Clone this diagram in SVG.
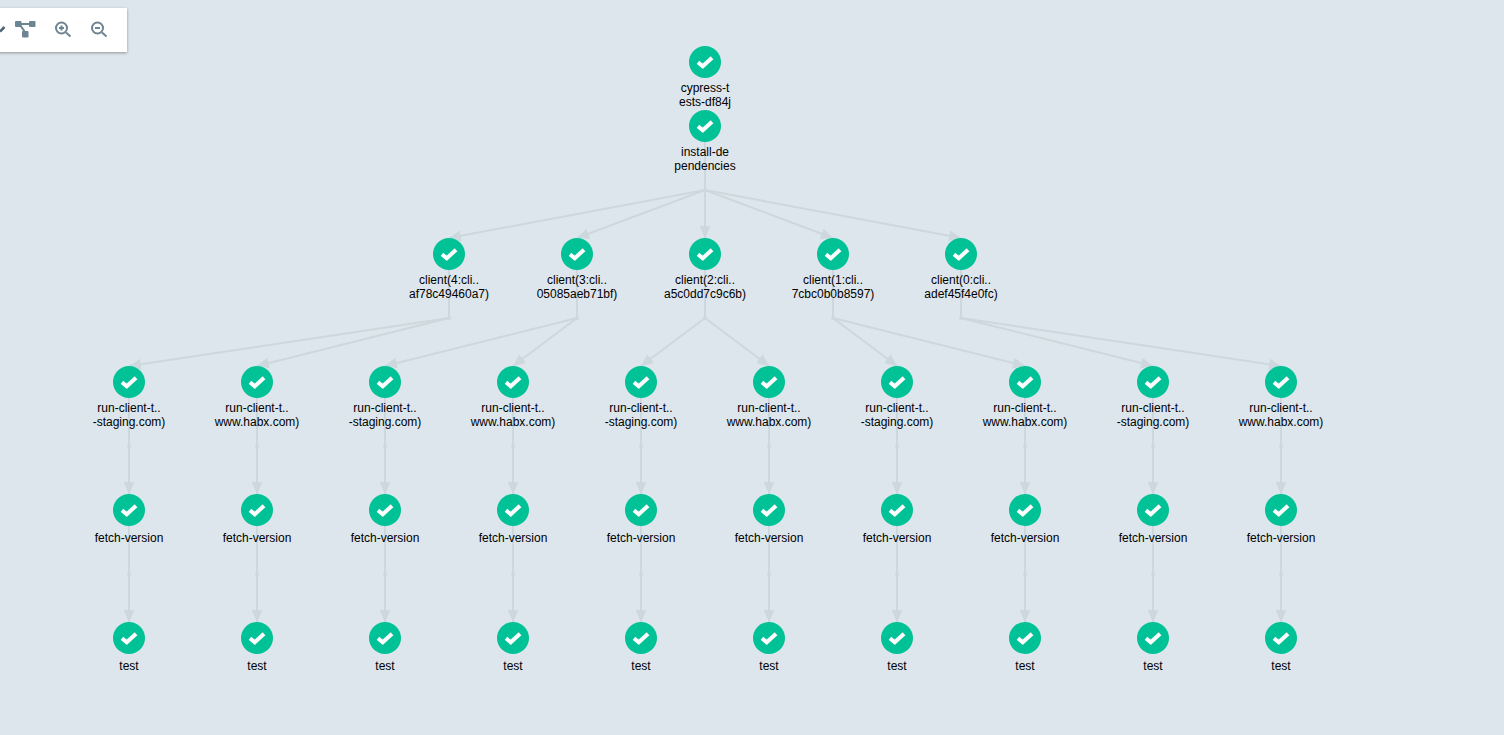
<svg xmlns="http://www.w3.org/2000/svg" width="1504" height="735" viewBox="0 0 1504 735">
<style>
.bg{fill:#dde6ec}
.edge{fill:none;stroke:#ccd8dd;stroke-width:2;marker-end:url(#arrow)}
.plain{marker-end:none}
.dot{fill:#ccd8dd}
text{font-family:"Liberation Sans",Arial,sans-serif;font-size:12px;fill:#000;text-anchor:middle}
.ic{fill:none;stroke:#6d8592;stroke-width:2}
.icf{fill:#6d8592}
</style>
<defs>
<marker id="arrow" markerUnits="userSpaceOnUse" markerWidth="13" markerHeight="13" viewBox="0 0 13 13" refX="12" refY="6.500" orient="auto">
<path d="M0 1 L12 6.500 L0 12 Z" fill="#ccd8dd"/>
</marker>
<g id="ok">
<circle r="16" fill="#00c296"/>
<path d="M-7 0.300 L-2.300 4.300 L7 -4.300" fill="none" stroke="#fff" stroke-width="4"/>
</g>
<filter id="sh" x="-10%" y="-20%" width="120%" height="150%"><feDropShadow dx="0" dy="1" stdDeviation="1.5" flood-color="#000" flood-opacity="0.35"/></filter>
</defs>
<rect class="bg" width="1504" height="735"/>
<g id="connectors">
<path class="edge plain" d="M705 126V190"/>
<path class="edge" d="M705 190L449 238"/><path class="edge" d="M705 190L577 238"/><path class="edge" d="M705 190V238"/><path class="edge" d="M705 190L833 238"/><path class="edge" d="M705 190L961 238"/>
<path class="edge plain" d="M449 254V318M577 254V318M705 254V318M833 254V318M961 254V318"/>
<path class="edge" d="M449 318L129 366"/><path class="edge" d="M449 318L257 366"/>
<path class="edge" d="M577 318L385 366"/><path class="edge" d="M577 318L513 366"/>
<path class="edge" d="M705 318L641 366"/><path class="edge" d="M705 318L769 366"/>
<path class="edge" d="M833 318L897 366"/><path class="edge" d="M833 318L1025 366"/>
<path class="edge" d="M961 318L1153 366"/><path class="edge" d="M961 318L1281 366"/>
<path class="edge" d="M129 382V494"/><path class="edge" d="M257 382V494"/><path class="edge" d="M385 382V494"/><path class="edge" d="M513 382V494"/><path class="edge" d="M641 382V494"/><path class="edge" d="M769 382V494"/><path class="edge" d="M897 382V494"/><path class="edge" d="M1025 382V494"/><path class="edge" d="M1153 382V494"/><path class="edge" d="M1281 382V494"/>
<path class="edge" d="M129 510V622"/><path class="edge" d="M257 510V622"/><path class="edge" d="M385 510V622"/><path class="edge" d="M513 510V622"/><path class="edge" d="M641 510V622"/><path class="edge" d="M769 510V622"/><path class="edge" d="M897 510V622"/><path class="edge" d="M1025 510V622"/><path class="edge" d="M1153 510V622"/><path class="edge" d="M1281 510V622"/>
<g class="dot">
<circle cx="705" cy="190" r="2"/><circle cx="449" cy="318" r="2"/><circle cx="577" cy="318" r="2"/><circle cx="705" cy="318" r="2"/><circle cx="833" cy="318" r="2"/><circle cx="961" cy="318" r="2"/>
<circle cx="129" cy="446" r="2"/><circle cx="257" cy="446" r="2"/><circle cx="385" cy="446" r="2"/><circle cx="513" cy="446" r="2"/><circle cx="641" cy="446" r="2"/><circle cx="769" cy="446" r="2"/><circle cx="897" cy="446" r="2"/><circle cx="1025" cy="446" r="2"/><circle cx="1153" cy="446" r="2"/><circle cx="1281" cy="446" r="2"/>
<circle cx="129" cy="574" r="2"/><circle cx="257" cy="574" r="2"/><circle cx="385" cy="574" r="2"/><circle cx="513" cy="574" r="2"/><circle cx="641" cy="574" r="2"/><circle cx="769" cy="574" r="2"/><circle cx="897" cy="574" r="2"/><circle cx="1025" cy="574" r="2"/><circle cx="1153" cy="574" r="2"/><circle cx="1281" cy="574" r="2"/>
</g>
</g>
<g id="root"><use href="#ok" x="705" y="62"/><text x="705" y="92">cypress-t</text><text x="705" y="106">ests-df84j</text></g>
<g id="install"><use href="#ok" x="705" y="126"/><text x="705" y="156">install-de</text><text x="705" y="170">pendencies</text></g>
<g id="client4"><use href="#ok" x="449" y="254"/><text x="449" y="284">client(4:cli..</text><text x="449" y="298">af78c49460a7)</text></g>
<g id="client3"><use href="#ok" x="577" y="254"/><text x="577" y="284">client(3:cli..</text><text x="577" y="298">05085aeb71bf)</text></g>
<g id="client2"><use href="#ok" x="705" y="254"/><text x="705" y="284">client(2:cli..</text><text x="705" y="298">a5c0dd7c9c6b)</text></g>
<g id="client1"><use href="#ok" x="833" y="254"/><text x="833" y="284">client(1:cli..</text><text x="833" y="298">7cbc0b0b8597)</text></g>
<g id="client0"><use href="#ok" x="961" y="254"/><text x="961" y="284">client(0:cli..</text><text x="961" y="298">adef45f4e0fc)</text></g>
<g id="run0"><use href="#ok" x="129" y="382"/><text x="129" y="412">run-client-t..</text><text x="129" y="426">-staging.com)</text></g>
<g id="run1"><use href="#ok" x="257" y="382"/><text x="257" y="412">run-client-t..</text><text x="257" y="426">www.habx.com)</text></g>
<g id="run2"><use href="#ok" x="385" y="382"/><text x="385" y="412">run-client-t..</text><text x="385" y="426">-staging.com)</text></g>
<g id="run3"><use href="#ok" x="513" y="382"/><text x="513" y="412">run-client-t..</text><text x="513" y="426">www.habx.com)</text></g>
<g id="run4"><use href="#ok" x="641" y="382"/><text x="641" y="412">run-client-t..</text><text x="641" y="426">-staging.com)</text></g>
<g id="run5"><use href="#ok" x="769" y="382"/><text x="769" y="412">run-client-t..</text><text x="769" y="426">www.habx.com)</text></g>
<g id="run6"><use href="#ok" x="897" y="382"/><text x="897" y="412">run-client-t..</text><text x="897" y="426">-staging.com)</text></g>
<g id="run7"><use href="#ok" x="1025" y="382"/><text x="1025" y="412">run-client-t..</text><text x="1025" y="426">www.habx.com)</text></g>
<g id="run8"><use href="#ok" x="1153" y="382"/><text x="1153" y="412">run-client-t..</text><text x="1153" y="426">-staging.com)</text></g>
<g id="run9"><use href="#ok" x="1281" y="382"/><text x="1281" y="412">run-client-t..</text><text x="1281" y="426">www.habx.com)</text></g>
<g id="fetch0"><use href="#ok" x="129" y="510"/><text x="129" y="542">fetch-version</text></g>
<g id="fetch1"><use href="#ok" x="257" y="510"/><text x="257" y="542">fetch-version</text></g>
<g id="fetch2"><use href="#ok" x="385" y="510"/><text x="385" y="542">fetch-version</text></g>
<g id="fetch3"><use href="#ok" x="513" y="510"/><text x="513" y="542">fetch-version</text></g>
<g id="fetch4"><use href="#ok" x="641" y="510"/><text x="641" y="542">fetch-version</text></g>
<g id="fetch5"><use href="#ok" x="769" y="510"/><text x="769" y="542">fetch-version</text></g>
<g id="fetch6"><use href="#ok" x="897" y="510"/><text x="897" y="542">fetch-version</text></g>
<g id="fetch7"><use href="#ok" x="1025" y="510"/><text x="1025" y="542">fetch-version</text></g>
<g id="fetch8"><use href="#ok" x="1153" y="510"/><text x="1153" y="542">fetch-version</text></g>
<g id="fetch9"><use href="#ok" x="1281" y="510"/><text x="1281" y="542">fetch-version</text></g>
<g id="test0"><use href="#ok" x="129" y="638"/><text x="129" y="670">test</text></g>
<g id="test1"><use href="#ok" x="257" y="638"/><text x="257" y="670">test</text></g>
<g id="test2"><use href="#ok" x="385" y="638"/><text x="385" y="670">test</text></g>
<g id="test3"><use href="#ok" x="513" y="638"/><text x="513" y="670">test</text></g>
<g id="test4"><use href="#ok" x="641" y="638"/><text x="641" y="670">test</text></g>
<g id="test5"><use href="#ok" x="769" y="638"/><text x="769" y="670">test</text></g>
<g id="test6"><use href="#ok" x="897" y="638"/><text x="897" y="670">test</text></g>
<g id="test7"><use href="#ok" x="1025" y="638"/><text x="1025" y="670">test</text></g>
<g id="test8"><use href="#ok" x="1153" y="638"/><text x="1153" y="670">test</text></g>
<g id="test9"><use href="#ok" x="1281" y="638"/><text x="1281" y="670">test</text></g>
<g id="toolbar">
<rect x="-10" y="8" width="137" height="44" fill="#fff" filter="url(#sh)"/>
<path d="M0 31.500L4.500 27" fill="none" stroke="#4f6370" stroke-width="2.500"/>
<g class="icf"><rect x="15" y="21" width="6.500" height="6" rx="1"/><rect x="29" y="21" width="6.500" height="6" rx="1"/><rect x="22" y="31" width="6.500" height="6.500" rx="1"/></g>
<path class="ic" d="M20 24H30M20 25L25 32"/>
<circle class="ic" stroke-width="2.500" cx="61.500" cy="28" r="5.500"/><path class="ic" stroke-width="3" d="M66 32.500L70.500 36.500"/><path class="ic" stroke-width="1.500" d="M59 28H64M61.500 25.500V30.500"/>
<circle class="ic" stroke-width="2.500" cx="97.500" cy="28" r="5.500"/><path class="ic" stroke-width="3" d="M102 32.500L106.500 36.500"/><path class="ic" stroke-width="1.500" d="M95 28H100"/>
</g>
</svg>
